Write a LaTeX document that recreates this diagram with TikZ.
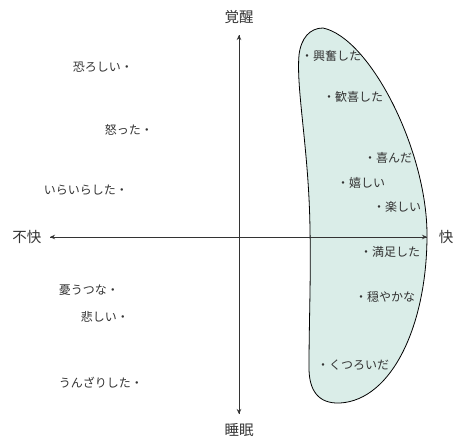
\documentclass[tikz,border=0pt]{standalone}
\usepackage{fontspec}
\setmainfont{Noto Sans CJK JP}
\usetikzlibrary{arrows.meta}
\definecolor{blobfill}{HTML}{DAEDE8}
\definecolor{ink}{HTML}{333333}
\tikzset{
  axis/.style={draw=ink, line width=0.8pt, -{Stealth[length=5pt,width=4.5pt]}},
  emo/.style={font=\fontsize{12}{14}\selectfont, text=ink, inner sep=0pt},
  axlabel/.style={font=\fontsize{14.5}{16}\selectfont, text=ink, inner sep=0pt},
  blob/.style={draw=black, line width=0.8pt, fill=blobfill}
}
\begin{document}
\begin{tikzpicture}[x=1pt,y=-1pt]
\useasboundingbox (0,0) rectangle (454,439);
\path[blob] (323,28) .. controls (370,38) and (427,150) .. (427,235)
  .. controls (427,325) and (392,400) .. (340,403)
  .. controls (318,404) and (309,390) .. (309,368)
  .. controls (309,320) and (311,280) .. (310,230)
  .. controls (309,150) and (296,90) .. (299,55)
  .. controls (301,38) and (310,28) .. (323,28) -- cycle;
\coordinate (top) at (239,35);
\coordinate (bot) at (239,414);
\coordinate (lft) at (50,237);
\coordinate (rgt) at (427,237);
\draw[axis] (bot) -- (top);
\draw[axis] (top) -- (bot);
\draw[axis] (rgt) -- (lft);
\draw[axis] (lft) -- (rgt);
\node[axlabel] (awake) at (239,17) {覚醒};
\node[axlabel] (sleep) at (239,430) {睡眠};
\node[axlabel] (unpl) at (27,237) {不快};
\node[axlabel] (pl) at (446,237) {快};
% left side
\node[emo, anchor=east] (e1) at (133,67) {恐ろしい・};
\node[emo, anchor=east] (e2) at (153,130) {怒った・};
\node[emo, anchor=east] (e3) at (128,190) {いらいらした・};
\node[emo, anchor=east] (e4) at (119,290) {憂うつな・};
\node[emo, anchor=east] (e5) at (129,317) {悲しい・};
\node[emo, anchor=east] (e6) at (143,383) {うんざりした・};
% right side
\node[emo, anchor=west] (p1) at (301,56) {・興奮した};
\node[emo, anchor=west] (p2) at (323,97) {・歓喜した};
\node[emo, anchor=west] (p3) at (364,158) {・喜んだ};
\node[emo, anchor=west] (p4) at (337,183) {・嬉しい};
\node[emo, anchor=west] (p5) at (373,207) {・楽しい};
\node[emo, anchor=west] (p6) at (360,252) {・満足した};
\node[emo, anchor=west] (p7) at (355,297) {・穏やかな};
\node[emo, anchor=west] (p8) at (317,365) {・くつろいだ};
\end{tikzpicture}
\end{document}
